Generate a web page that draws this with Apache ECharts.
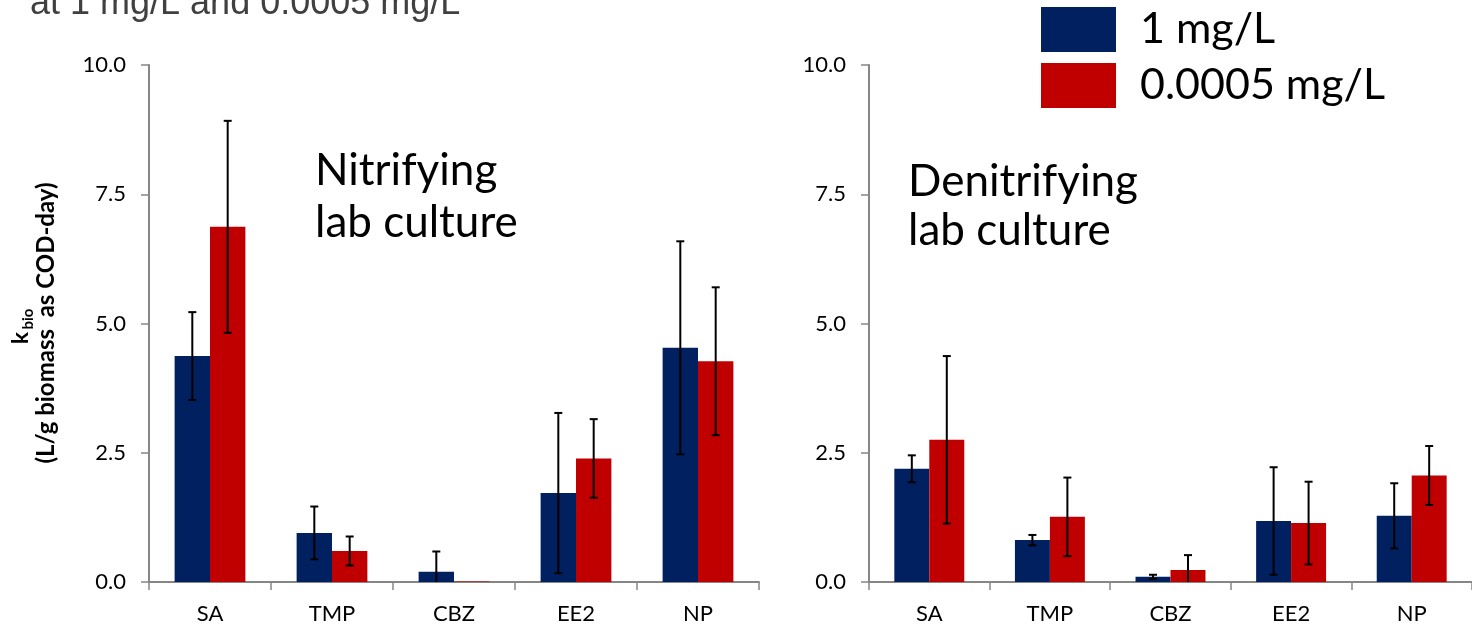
<!DOCTYPE html>
<html>
<head>
<meta charset="utf-8">
<title>k_bio by culture</title>
<script src="https://cdn.jsdelivr.net/npm/echarts@6/dist/echarts.min.js"></script>
<style>
  html, body { margin: 0; padding: 0; background: #fff; }
  #chart { width: 1472px; height: 628px; }
</style>
</head>
<body>
<div id="chart"></div>
<script>
// Compounds on the category axis
const categories = ['SA', 'TMP', 'CBZ', 'EE2', 'NP'];
// Value-axis ticks
const yTicks = [0, 2.5, 5, 7.5, 10];

// Nitrifying lab culture: mean k_bio and standard deviation
const nitHigh = [4.37, 0.95, 0.20, 1.72, 4.53];
const nitHighErr = [0.85, 0.51, 0.39, 1.55, 2.06];
const nitLow = [6.87, 0.60, 0.01, 2.39, 4.27];
const nitLowErr = [2.05, 0.28, 0.00, 0.76, 1.43];

// Denitrifying lab culture: mean k_bio and standard deviation
const denHigh = [2.19, 0.81, 0.10, 1.18, 1.28];
const denHighErr = [0.26, 0.10, 0.04, 1.04, 0.63];
const denLow = [2.75, 1.26, 0.23, 1.14, 2.06];
const denLowErr = [1.62, 0.76, 0.29, 0.80, 0.57];

const seriesNames = ['1 mg/L', '0.0005 mg/L'];
const colors = ['#002060', '#C00000'];

const FONT = 'Lato';
const AXIS_GRAY = '#868686';
const CAT_GAP = 0.42;

function errData(vals, errs) {
  return vals.map((v, i) => [i, v, errs[i]]);
}

// Draws a vertical error bar with caps over the left (-1) or right (+1) bar of a group
function errRender(side) {
  return function (params, api) {
    const i = api.value(0), v = api.value(1), e = api.value(2);
    if (!e) return;
    const band = api.size([1, 0])[0];
    const barW = band * (1 - CAT_GAP) / 2;
    const x = api.coord([i, v])[0] + side * barW / 2;
    const top = api.coord([i, v + e])[1];
    const bot = api.coord([i, v - e])[1];
    const cap = 4;
    const st = { stroke: '#000', lineWidth: 2 };
    return {
      type: 'group',
      children: [
        { type: 'line', shape: { x1: x, y1: top, x2: x, y2: bot }, style: st },
        { type: 'line', shape: { x1: x - cap, y1: top, x2: x + cap, y2: top }, style: st },
        { type: 'line', shape: { x1: x - cap, y1: bot, x2: x + cap, y2: bot }, style: st }
      ]
    };
  };
}

function xAxisFor(gridIndex) {
  return {
    type: 'category', gridIndex, data: categories,
    axisLine: { lineStyle: { color: AXIS_GRAY, width: 2 } },
    axisTick: { show: true, length: 8, lineStyle: { color: AXIS_GRAY, width: 1.5 } },
    axisLabel: { color: '#000', fontFamily: FONT, fontSize: 22, margin: 21 },
    splitLine: { show: false }
  };
}

function yAxisFor(gridIndex) {
  return {
    type: 'value', gridIndex, min: yTicks[0], max: yTicks[yTicks.length - 1],
    interval: yTicks[1] - yTicks[0],
    axisLine: { show: true, lineStyle: { color: AXIS_GRAY, width: 2 } },
    axisTick: { show: true, length: 8, lineStyle: { color: AXIS_GRAY, width: 1.5 } },
    axisLabel: { color: '#000', fontFamily: FONT, fontSize: 22, margin: 23,
      formatter: v => v.toFixed(1) },
    splitLine: { show: false }
  };
}

function barSeries(name, color, data, axisIndex) {
  return {
    type: 'bar', name, data, xAxisIndex: axisIndex, yAxisIndex: axisIndex,
    barGap: '0%', barCategoryGap: (CAT_GAP * 100) + '%',
    itemStyle: { color },
    emphasis: { disabled: true }
  };
}

function errSeries(vals, errs, side, axisIndex) {
  return {
    type: 'custom', xAxisIndex: axisIndex, yAxisIndex: axisIndex,
    data: errData(vals, errs), renderItem: errRender(side),
    encode: { x: 0, y: 1 }, clip: true, z: 5, silent: true
  };
}

const chart = echarts.init(document.getElementById('chart'), null, { renderer: 'canvas' });

const ROT = Math.PI / 2;

chart.setOption({
  animation: false,
  backgroundColor: '#fff',
  textStyle: { fontFamily: FONT },
  grid: [
    { left: 149, top: 65, width: 610, height: 517 },
    { left: 869, top: 65, width: 609, height: 517 }
  ],
  xAxis: [xAxisFor(0), xAxisFor(1)],
  yAxis: [yAxisFor(0), yAxisFor(1)],
  legend: {
    orient: 'vertical', left: 1041, top: 7, padding: 0,
    itemWidth: 75, itemHeight: 45, itemGap: 11,
    icon: 'rect',
    data: seriesNames,
    textStyle: { color: '#000', fontFamily: FONT, fontSize: 43, padding: [0, 0, 0, 19] },
    selectedMode: false
  },
  series: [
    barSeries(seriesNames[0], colors[0], nitHigh, 0),
    barSeries(seriesNames[1], colors[1], nitLow, 0),
    barSeries(seriesNames[0], colors[0], denHigh, 1),
    barSeries(seriesNames[1], colors[1], denLow, 1),
    errSeries(nitHigh, nitHighErr, -1, 0),
    errSeries(nitLow, nitLowErr, 1, 0),
    errSeries(denHigh, denHighErr, -1, 1),
    errSeries(denLow, denLowErr, 1, 1)
  ],
  graphic: [
    {
      type: 'text', left: 30, top: -14,
      style: { text: 'at 1 mg/L and 0.0005 mg/L', font: '36px "Liberation Sans"', fill: '#404040' }
    },
    // value-axis title, rotated to read bottom-to-top
    {
      type: 'text', x: 21, y: 338, rotation: ROT,
      style: { text: 'k', font: 'bold 23px Lato', fill: '#000',
        textAlign: 'center', textVerticalAlign: 'middle' }
    },
    {
      type: 'text', x: 28, y: 319, rotation: ROT,
      style: { text: 'bio', font: 'bold 15px Lato', fill: '#000',
        textAlign: 'center', textVerticalAlign: 'middle' }
    },
    {
      type: 'text', x: 46, y: 323, rotation: ROT,
      style: { text: '(L/g biomass  as COD-day)', font: 'bold 24px Lato', fill: '#000',
        textAlign: 'center', textVerticalAlign: 'middle' }
    },
    {
      type: 'text', x: 315, y: 145,
      style: { text: 'Nitrifying\nlab culture', font: '44px Lato', lineHeight: 52,
        fill: '#000', textVerticalAlign: 'top' }
    },
    {
      type: 'text', x: 908, y: 157,
      style: { text: 'Denitrifying\nlab culture', font: '44px Lato', lineHeight: 49,
        fill: '#000', textVerticalAlign: 'top' }
    }
  ]
});
</script>
</body>
</html>
